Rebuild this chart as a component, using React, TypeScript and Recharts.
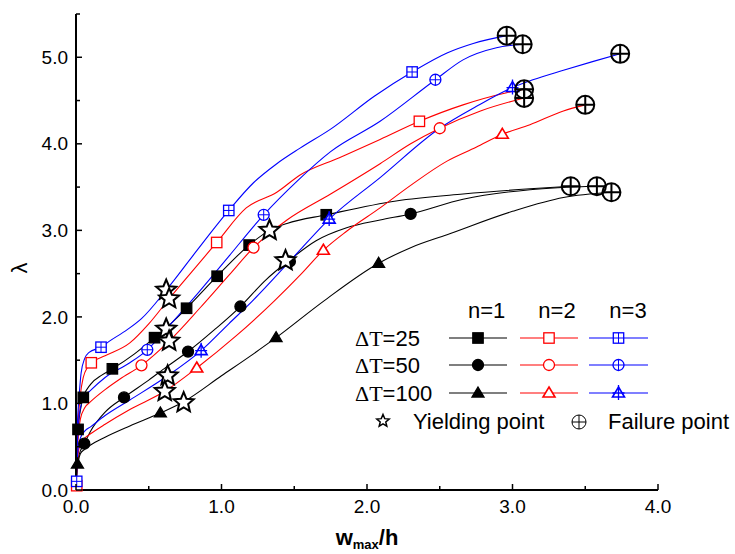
import React from 'react'
import { ComposedChart, Line, Scatter, XAxis, YAxis } from 'recharts'

type P = [number, number]

const xTicks = [0, 0.5, 1, 1.5, 2, 2.5, 3, 3.5, 4]
const yTicks = [0, 0.5, 1, 1.5, 2, 2.5, 3, 3.5, 4, 4.5, 5, 5.5]

// n=1 (black)
const k25: P[] = [[0, 0], [0.004, 0.3], [0.014, 0.7], [0.03, 0.92], [0.05, 1.07], [0.1, 1.22], [0.18, 1.33], [0.25, 1.4], [0.4, 1.57], [0.54, 1.76], [0.65, 1.92], [0.76, 2.1], [0.97, 2.47], [1.19, 2.83], [1.33, 3.0], [1.45, 3.08], [1.72, 3.18], [2.2, 3.34], [2.66, 3.42], [3.12, 3.48], [3.4, 3.51]]
const k50: P[] = [[0, 0], [0.005, 0.2], [0.02, 0.4], [0.057, 0.535], [0.1, 0.68], [0.2, 0.9], [0.33, 1.07], [0.5, 1.27], [0.62, 1.42], [0.77, 1.6], [0.95, 1.85], [1.13, 2.12], [1.3, 2.42], [1.47, 2.66], [1.65, 2.88], [1.86, 3.03], [2.09, 3.12], [2.3, 3.19], [2.66, 3.36], [3.12, 3.47], [3.58, 3.51]]
const k100: P[] = [[0, 0], [0.005, 0.15], [0.015, 0.32], [0.03, 0.42], [0.06, 0.47], [0.1, 0.52], [0.2, 0.61], [0.37, 0.74], [0.58, 0.89], [0.74, 1.02], [1.0, 1.32], [1.2, 1.55], [1.375, 1.76], [1.7, 2.18], [2.08, 2.62], [2.3, 2.8], [2.55, 2.95], [3.0, 3.22], [3.35, 3.38], [3.68, 3.44]]
// n=2 (red)
const r25: P[] = [[0, 0], [0.005, 0.4], [0.015, 0.8], [0.03, 1.1], [0.05, 1.3], [0.08, 1.42], [0.105, 1.47], [0.2, 1.55], [0.37, 1.7], [0.5, 1.92], [0.64, 2.21], [0.8, 2.53], [0.967, 2.86], [1.17, 3.26], [1.38, 3.44], [1.54, 3.64], [1.81, 3.84], [2.09, 4.05], [2.36, 4.26], [2.66, 4.45], [2.96, 4.59], [3.08, 4.63]]
const r50: P[] = [[0, 0], [0.005, 0.3], [0.015, 0.6], [0.03, 0.82], [0.06, 0.95], [0.1, 1.02], [0.2, 1.16], [0.3, 1.28], [0.45, 1.44], [0.64, 1.72], [0.85, 2.1], [1.05, 2.48], [1.22, 2.8], [1.45, 3.12], [1.75, 3.42], [2.09, 3.77], [2.3, 4.0], [2.5, 4.18], [2.78, 4.38], [3.08, 4.53]]
const r100: P[] = [[0, 0], [0.005, 0.2], [0.015, 0.42], [0.03, 0.53], [0.06, 0.6], [0.1, 0.65], [0.2, 0.76], [0.37, 0.93], [0.61, 1.14], [0.83, 1.41], [1.1, 1.78], [1.36, 2.18], [1.55, 2.5], [1.7, 2.77], [1.86, 2.99], [2.09, 3.26], [2.3, 3.52], [2.55, 3.8], [2.75, 3.96], [2.93, 4.11], [3.12, 4.22], [3.35, 4.38], [3.5, 4.45]]
// n=3 (blue)
const b25: P[] = [[0, 0], [0.004, 0.5], [0.012, 0.85], [0.022, 1.1], [0.035, 1.35], [0.06, 1.52], [0.09, 1.59], [0.172, 1.65], [0.23, 1.72], [0.35, 1.85], [0.45, 1.98], [0.62, 2.31], [0.8, 2.7], [1.05, 3.23], [1.22, 3.55], [1.38, 3.77], [1.54, 3.95], [1.75, 4.17], [2.05, 4.55], [2.31, 4.83], [2.55, 5.05], [2.73, 5.16], [2.96, 5.25]]
const b50: P[] = [[0, 0], [0.005, 0.35], [0.015, 0.7], [0.03, 0.95], [0.06, 1.08], [0.1, 1.15], [0.2, 1.3], [0.37, 1.47], [0.49, 1.62], [0.62, 1.86], [0.8, 2.2], [1.05, 2.7], [1.29, 3.18], [1.52, 3.57], [1.75, 3.91], [2.09, 4.26], [2.47, 4.74], [2.66, 4.97], [2.89, 5.11], [3.07, 5.15]]
const b100: P[] = [[0, 0], [0.005, 0.22], [0.015, 0.48], [0.03, 0.6], [0.06, 0.68], [0.1, 0.73], [0.2, 0.86], [0.37, 1.04], [0.63, 1.32], [0.86, 1.61], [1.05, 1.92], [1.21, 2.18], [1.5, 2.7], [1.74, 3.13], [2.09, 3.61], [2.5, 4.18], [2.75, 4.43], [3.0, 4.65], [3.14, 4.74], [3.35, 4.85], [3.55, 4.95], [3.74, 5.04]]

// symbols along the curves
const k25Marks: P[] = [[0.014, 0.7], [0.05, 1.07], [0.25, 1.4], [0.54, 1.76], [0.76, 2.1], [0.97, 2.47], [1.19, 2.83], [1.72, 3.18]]
const k50Marks: P[] = [[0.057, 0.535], [0.33, 1.07], [0.77, 1.6], [1.13, 2.12], [1.47, 2.64], [2.3, 3.19]]
const k100Marks: P[] = [[0.01, 0.3], [0.58, 0.89], [1.375, 1.76], [2.08, 2.62]]
const r25Marks: P[] = [[0.005, 0.05], [0.105, 1.47], [0.967, 2.86], [2.36, 4.26]]
const r50Marks: P[] = [[0.45, 1.44], [1.22, 2.8], [2.5, 4.18]]
const r100Marks: P[] = [[0.83, 1.41], [1.7, 2.77], [2.93, 4.11]]
const b25Marks: P[] = [[0.005, 0.1], [0.172, 1.65], [1.05, 3.23], [2.31, 4.83]]
const b50Marks: P[] = [[0.49, 1.62], [1.29, 3.18], [2.47, 4.74]]
const b100Marks: P[] = [[0.86, 1.61], [1.74, 3.13], [3.0, 4.65]]

const yieldPts: P[] = [[0.62, 2.31], [0.64, 2.21], [1.33, 3.0], [0.62, 1.86], [0.64, 1.72], [1.44, 2.65], [0.63, 1.32], [0.61, 1.14], [0.74, 1.01]]

const nLabels = ['n=1', 'n=2', 'n=3']
const dtLabels = ['25', '50', '100']

const BLACK = '#000000'
const RED = '#ff0000'
const BLUE = '#0000ff'
const SANS = "'Liberation Sans', Arial, sans-serif"
const SERIF = "'Liberation Serif', 'Times New Roman', serif"

type Kind = 'square' | 'circle' | 'triangle'
type Variant = 'filled' | 'open' | 'cross'

const series: { curve: P[]; marks: P[]; color: string; kind: Kind; variant: Variant }[] = [
  { curve: k25, marks: k25Marks, color: BLACK, kind: 'square', variant: 'filled' },
  { curve: k50, marks: k50Marks, color: BLACK, kind: 'circle', variant: 'filled' },
  { curve: k100, marks: k100Marks, color: BLACK, kind: 'triangle', variant: 'filled' },
  { curve: r25, marks: r25Marks, color: RED, kind: 'square', variant: 'open' },
  { curve: r50, marks: r50Marks, color: RED, kind: 'circle', variant: 'open' },
  { curve: r100, marks: r100Marks, color: RED, kind: 'triangle', variant: 'open' },
  { curve: b25, marks: b25Marks, color: BLUE, kind: 'square', variant: 'cross' },
  { curve: b50, marks: b50Marks, color: BLUE, kind: 'circle', variant: 'cross' },
  { curve: b100, marks: b100Marks, color: BLUE, kind: 'triangle', variant: 'cross' },
]

const toXY = (a: P[]) => a.map(([x, y]) => ({ x, y }))
const failurePts = series.map((s) => s.curve[s.curve.length - 1])

function Mark({ cx, cy, kind, variant, color }: { cx: number; cy: number; kind: Kind; variant: Variant; color: string }) {
  const fill = variant === 'filled' ? color : '#fff'
  const sw = 1.3
  if (kind === 'square') {
    const a = 5.2
    return (
      <g>
        <rect x={cx - a} y={cy - a} width={2 * a} height={2 * a} fill={fill} stroke={color} strokeWidth={sw} />
        {variant === 'cross' && <path d={`M${cx - a},${cy}H${cx + a}M${cx},${cy - a}V${cy + a}`} stroke={color} strokeWidth={1} />}
      </g>
    )
  }
  if (kind === 'circle') {
    const r = 5.5
    return (
      <g>
        <circle cx={cx} cy={cy} r={r} fill={fill} stroke={color} strokeWidth={sw} />
        {variant === 'cross' && <path d={`M${cx - r},${cy}H${cx + r}M${cx},${cy - r}V${cy + r}`} stroke={color} strokeWidth={1} />}
      </g>
    )
  }
  const h = 10
  const w = 6
  return (
    <g>
      <path d={`M${cx},${cy - h * 0.6}L${cx + w},${cy + h * 0.4}L${cx - w},${cy + h * 0.4}Z`} fill={fill} stroke={color} strokeWidth={variant === 'filled' ? sw : 1.6} />
      {variant === 'cross' && <path d={`M${cx - w},${cy}H${cx + w}M${cx},${cy - h * 0.6 - 2}V${cy + h * 0.4 + 3}`} stroke={color} strokeWidth={1.3} />}
    </g>
  )
}

function starPath(cx: number, cy: number, R: number, ri: number) {
  let d = ''
  for (let i = 0; i < 10; i++) {
    const r = i % 2 === 0 ? R : ri
    const a = -Math.PI / 2 + (i * Math.PI) / 5
    d += `${i === 0 ? 'M' : 'L'}${cx + r * Math.cos(a)},${cy + r * Math.sin(a)}`
  }
  return d + 'Z'
}

function Star({ cx, cy, R = 10.5, sw = 2 }: { cx: number; cy: number; R?: number; sw?: number }) {
  return <path d={starPath(cx, cy, R, R * 0.45)} fill="#fff" stroke="#000" strokeWidth={sw} strokeLinejoin="miter" />
}

function Failure({ cx, cy, r = 9, sw = 2 }: { cx: number; cy: number; r?: number; sw?: number }) {
  return (
    <g>
      <circle cx={cx} cy={cy} r={r} fill="none" stroke="#000" strokeWidth={sw} />
      <path d={`M${cx - r},${cy}H${cx + r}M${cx},${cy - r}V${cy + r}`} stroke="#000" strokeWidth={sw} />
    </g>
  )
}

const XTick = ({ x, y, payload }: any) => {
  const v = payload.value as number
  const major = Number.isInteger(v)
  const y0 = y - 10
  return (
    <g>
      <line x1={x} x2={x} y1={y0} y2={y0 - (major ? 6 : 4)} stroke="#000" strokeWidth={1.5} />
      {major && (
        <text x={x} y={y} dy="0.71em" textAnchor="middle" fontSize={19} fontFamily={SANS} fill="#000">
          {v.toFixed(1)}
        </text>
      )}
    </g>
  )
}

const YTick = ({ x, y, payload }: any) => {
  const v = payload.value as number
  const major = Number.isInteger(v)
  const x0 = x + 8
  return (
    <g>
      <line x1={x0} x2={x0 + (major ? 6 : 4)} y1={y} y2={y} stroke="#000" strokeWidth={1.5} />
      {major && (
        <text x={x} y={y} dy="0.35em" textAnchor="end" fontSize={19} fontFamily={SANS} fill="#000">
          {v.toFixed(1)}
        </text>
      )}
    </g>
  )
}

// axis title: bold w with subscript "max", then /h
const XLabel = ({ viewBox }: any) => {
  const cx = viewBox.x + viewBox.width / 2
  return (
    <text x={cx} y={viewBox.y + 55} textAnchor="middle" fontSize={22} fontWeight="bold" fontFamily={SANS} fill="#000">
      <tspan>w</tspan>
      <tspan fontSize={13} dy={4}>max</tspan>
      <tspan dy={-4}>/h</tspan>
    </text>
  )
}

const YLabel = () => (
  <text x={0} y={0} transform="translate(27,268) rotate(-90)" textAnchor="middle" fontSize={22} fontFamily={SANS} fill="#000">
    λ
  </text>
)

function LegendBox() {
  const colX = [486.7, 557, 628]
  const segs = [[449, 507], [520, 578], [589, 648]]
  const rowY = [338, 365, 393]
  const kinds: Kind[] = ['square', 'circle', 'triangle']
  const cols: { color: string; variant: Variant }[] = [
    { color: BLACK, variant: 'filled' },
    { color: RED, variant: 'open' },
    { color: BLUE, variant: 'cross' },
  ]
  return (
    <svg width={735} height={554} style={{ position: 'absolute', left: 0, top: 0, pointerEvents: 'none' }}>
      {nLabels.map((t, i) => (
        <text key={t} x={colX[i]} y={318} textAnchor="middle" fontSize={22} fontFamily={SANS} fill="#000">{t}</text>
      ))}
      {dtLabels.map((d, r) => (
        <g key={d}>
          <text x={355} y={rowY[r] + 7.5} fontSize={22} fontFamily={SANS} fill="#000">
            <tspan fontFamily={SERIF}>ΔT</tspan>={d}
          </text>
          {cols.map((c, i) => (
            <g key={i}>
              <line x1={segs[i][0]} x2={segs[i][1]} y1={rowY[r]} y2={rowY[r]} stroke={c.color} strokeWidth={1.2} />
              <Mark cx={(segs[i][0] + segs[i][1]) / 2} cy={rowY[r]} kind={kinds[r]} variant={c.variant} color={c.color} />
            </g>
          ))}
        </g>
      ))}
      <Star cx={383} cy={421} R={6.5} sw={1.5} />
      <text x={413} y={428.5} fontSize={22} fontFamily={SANS} fill="#000">Yielding point</text>
      <Failure cx={579} cy={422} r={7} sw={1} />
      <text x={608} y={428.5} fontSize={22} fontFamily={SANS} fill="#000">Failure point</text>
    </svg>
  )
}

export default function App() {
  return (
    <div style={{ position: 'absolute', left: 0, top: 0, width: 735, height: 554, background: '#fff' }}>
      <ComposedChart width={735} height={554} margin={{ top: 14, right: 77, bottom: 0, left: 0 }}>
        <XAxis
          type="number"
          dataKey="x"
          domain={[0, 4]}
          ticks={xTicks}
          interval={0}
          height={64}
          tickSize={0}
          tickMargin={10}
          tickLine={false}
          axisLine={{ stroke: '#000', strokeWidth: 2 }}
          tick={<XTick />}
          label={<XLabel />}
        />
        <YAxis
          type="number"
          dataKey="y"
          domain={[0, 5.5]}
          ticks={yTicks}
          interval={0}
          width={76}
          tickSize={0}
          tickMargin={8}
          tickLine={false}
          axisLine={{ stroke: '#000', strokeWidth: 2 }}
          tick={<YTick />}
          label={<YLabel />}
        />
        {series.map((s, i) => (
          <Line
            key={`l${i}`}
            data={toXY(s.curve)}
            dataKey="y"
            type="monotone"
            stroke={s.color}
            strokeWidth={1.1}
            dot={false}
            activeDot={false}
            isAnimationActive={false}
          />
        ))}
        {series.map((s, i) => (
          <Scatter
            key={`m${i}`}
            data={toXY(s.marks)}
            dataKey="y"
            isAnimationActive={false}
            shape={(p: any) => <Mark cx={p.cx} cy={p.cy} kind={s.kind} variant={s.variant} color={s.color} />}
          />
        ))}
        <Scatter
          data={toXY(yieldPts)}
          dataKey="y"
          isAnimationActive={false}
          shape={(p: any) => <Star cx={p.cx} cy={p.cy} />}
        />
        <Scatter
          data={toXY(failurePts)}
          dataKey="y"
          isAnimationActive={false}
          shape={(p: any) => <Failure cx={p.cx} cy={p.cy} />}
        />
      </ComposedChart>
      <LegendBox />
    </div>
  )
}
